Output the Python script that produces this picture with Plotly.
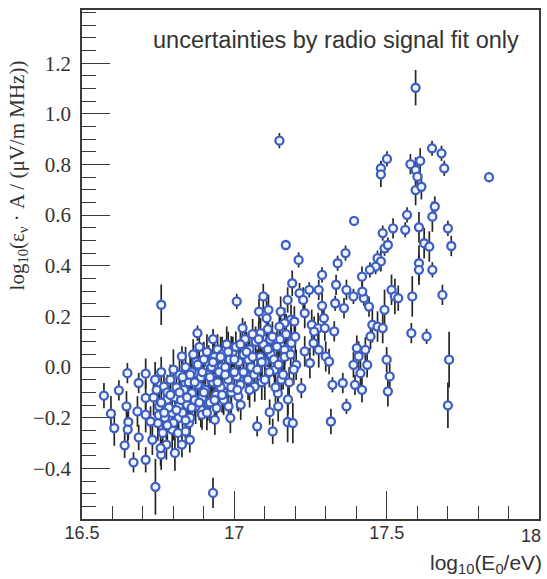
import plotly.graph_objects as go

# log10(E0/eV) of each event
log_e0 = [
    17.148, 17.595, 17.481, 17.481, 17.501, 17.578, 17.610, 17.595, 17.601, 17.595,
    17.614, 17.649, 17.680, 17.689, 17.836,
    17.393, 17.169, 17.211, 16.760, 17.008, 16.879, 16.930, 16.828, 16.649, 16.709,
    16.686, 16.621, 16.572,
    17.521, 17.487, 17.561, 17.567, 17.606, 17.650, 17.658, 17.701, 17.712, 17.623,
    17.640, 17.493, 17.504, 17.470, 17.481, 17.464, 17.445, 17.419, 17.606, 17.606,
    17.650, 17.683, 17.584, 17.516, 17.527, 17.538, 17.581, 17.631, 17.705, 17.493,
    17.453, 17.470, 17.487, 17.447, 17.339, 17.365, 17.288, 17.334, 17.368, 17.391,
    17.425, 17.442, 17.360, 17.331, 17.190, 17.246, 17.277, 17.214, 17.226, 17.288,
    17.231, 17.095, 17.175, 17.081, 17.112, 17.152, 17.027, 17.086, 17.106, 17.186,
    17.197, 17.254, 17.275, 17.297, 17.328, 17.294, 17.118, 17.140, 17.175, 17.231,
    17.260, 17.277, 17.300, 17.311, 17.248, 17.203, 17.402, 17.430, 17.408, 17.436,
    17.391, 17.414, 17.500, 17.510, 17.322, 17.356, 17.396, 17.419, 17.504, 17.220,
    17.368, 17.317, 17.701, 17.075, 17.126, 17.116, 17.144, 17.175, 17.192, 16.930,
    16.741, 16.669, 16.709, 16.640, 16.686, 16.606, 16.595, 16.646, 16.652, 16.650,
    16.731, 16.760, 16.805, 16.777, 16.828, 16.854, 16.796, 16.765, 16.840, 16.817,
    16.851, 16.749, 16.709, 16.987, 16.981, 17.021, 16.936, 16.890, 16.942, 16.873,
    16.913,
    16.682, 16.709, 16.725, 16.758, 16.769, 16.779, 16.753, 16.796, 16.818,
    16.926, 16.894, 16.861, 17.046, 17.105, 17.132, 17.067, 17.143, 17.008, 16.959,
    16.990, 17.040, 16.916, 16.872, 16.948, 17.013, 16.976, 16.894, 16.839,
    17.420, 17.165, 17.154, 17.176, 17.187, 17.262, 17.165, 17.148,
    16.735, 16.745, 16.752, 16.760, 16.772, 16.780, 16.785, 16.790, 16.800, 16.805,
    16.810, 16.815, 16.820, 16.825, 16.830, 16.835, 16.840, 16.845, 16.850, 16.855,
    16.860, 16.865, 16.870, 16.875, 16.880, 16.885, 16.890, 16.895, 16.900, 16.905,
    16.910, 16.915, 16.920, 16.925, 16.930, 16.935, 16.940, 16.945, 16.950, 16.955,
    16.960, 16.965, 16.970, 16.975, 16.980, 16.985, 16.990, 16.995,
    17.000, 17.005, 17.015, 17.020, 17.030, 17.035, 17.045, 17.050, 17.055, 17.060,
    17.065, 17.070, 17.085, 17.090, 17.095, 17.100, 17.110, 17.115, 17.120, 17.125,
    17.130, 17.135, 17.145, 17.150, 17.160, 17.165, 17.170, 17.180, 17.185, 17.195,
    17.200,
    16.740, 16.760, 16.770, 16.780, 16.790, 16.800, 16.810, 16.820, 16.830, 16.840,
    16.845, 16.855, 16.860, 16.870, 16.880, 16.885, 16.895, 16.900, 16.910, 16.920,
    16.930, 16.935, 16.945, 16.955, 16.960, 16.970, 16.980, 16.990, 17.000, 17.010,
    17.020, 17.030, 17.040, 17.050, 17.060, 17.075, 17.080, 17.090, 17.100, 17.110,
]

# log10(eps_nu * A / (uV/m MHz))
log_eps = [
    0.894, 1.103, 0.785, 0.761, 0.822, 0.801, 0.814, 0.778, 0.752, 0.699,
    0.712, 0.864, 0.844, 0.785, 0.750,
    0.577, 0.482, 0.423, 0.246, 0.259, 0.134, 0.110, 0.042, -0.024, -0.026,
    -0.063, -0.092, -0.113,
    0.548, 0.529, 0.542, 0.601, 0.552, 0.594, 0.634, 0.548, 0.478, 0.489,
    0.476, 0.469, 0.482, 0.430, 0.417, 0.397, 0.384, 0.357, 0.410, 0.384,
    0.384, 0.285, 0.279, 0.305, 0.279, 0.272, 0.134, 0.121, 0.029, 0.226,
    0.167, 0.160, 0.154, 0.121, 0.410, 0.450, 0.364, 0.325, 0.305, 0.279,
    0.272, 0.239, 0.233, 0.252, 0.331, 0.305, 0.305, 0.292, 0.265, 0.242,
    0.213, 0.279, 0.265, 0.219, 0.226, 0.219, 0.154, 0.134, 0.193, 0.187,
    0.180, 0.167, 0.154, 0.154, 0.141, 0.193, 0.108, 0.081, 0.075, 0.062,
    0.095, 0.068, 0.042, 0.022, 0.016, 0.009, 0.075, 0.068, 0.042, 0.009,
    0.009, -0.024, 0.029, -0.037, -0.070, -0.063, -0.070, -0.090, -0.096, -0.083,
    -0.155, -0.215, -0.151, -0.234, -0.254, -0.178, -0.155, -0.217, -0.221, -0.497,
    -0.473, -0.376, -0.366, -0.309, -0.278, -0.241, -0.184, -0.155, -0.217, -0.247,
    -0.287, -0.346, -0.339, -0.306, -0.306, -0.287, -0.247, -0.260, -0.254, -0.201,
    -0.221, -0.221, -0.188, -0.201, -0.155, -0.149, -0.208, -0.168, -0.162, -0.155,
    -0.142,
    -0.175, -0.122, -0.215, -0.320, -0.077, -0.129, -0.155, -0.181, -0.155,
    -0.057, -0.083, -0.103, 0.029, 0.081, -0.011, -0.077, -0.103, -0.037, 0.002,
    0.042, -0.037, 0.016, -0.024, -0.096, -0.116, -0.070, -0.188, -0.063,
    0.298, 0.174, -0.050, -0.128, 0.095, 0.140, 0.068, 0.160,
    -0.120, -0.090, -0.190, -0.140, -0.200, -0.100, -0.160, -0.050, -0.220, -0.120,
    -0.080, -0.260, -0.030, -0.130, -0.180, -0.090, 0.000, -0.150, -0.060, -0.200,
    -0.020, 0.050, -0.130, 0.020, -0.070, 0.080, -0.040, -0.120, 0.030, -0.090,
    0.060, -0.030, -0.140, 0.000, -0.060, 0.040, -0.110, 0.070, -0.020, -0.080,
    0.050, -0.130, 0.000, 0.090, -0.050, 0.030, -0.100, 0.060,
    -0.020, 0.080, 0.020, -0.070, 0.050, 0.110, -0.050, 0.070, 0.000, 0.130,
    -0.030, 0.100, 0.040, -0.060, 0.090, 0.020, 0.150, -0.020, 0.050, 0.120,
    0.030, -0.080, 0.010, 0.110, -0.030, 0.040, 0.130, -0.060, 0.050, -0.010,
    0.120,
    -0.050, -0.020, -0.180, -0.230, -0.110, -0.010, -0.170, -0.100, -0.040, -0.210,
    -0.120, -0.030, -0.160, -0.060, 0.010, -0.140, -0.020, -0.100, -0.180, -0.040,
    0.020, -0.130, -0.060, 0.040, -0.110, -0.030, 0.060, -0.080, 0.030, -0.090,
    0.090, -0.020, 0.060, -0.090, 0.040, -0.010, 0.110, 0.020, -0.050, 0.070,
]

# fit uncertainty (symmetric)
fit_err = [
    0.03, 0.07, 0.03, 0.05, 0.03, 0.04, 0.05, 0.05, 0.05, 0.06,
    0.05, 0.03, 0.03, 0.03, 0.02,
    0.02, 0.02, 0.03, 0.08, 0.03, 0.03, 0.04, 0.04, 0.04, 0.06,
    0.04, 0.04, 0.05,
    0.04, 0.03, 0.03, 0.03, 0.06, 0.06, 0.04, 0.03, 0.04, 0.06,
    0.06, 0.03, 0.03, 0.03, 0.04, 0.03, 0.03, 0.04, 0.07, 0.06,
    0.03, 0.04, 0.08, 0.06, 0.07, 0.05, 0.04, 0.03, 0.11, 0.08,
    0.07, 0.06, 0.06, 0.05, 0.03, 0.03, 0.03, 0.04, 0.04, 0.03,
    0.03, 0.04, 0.04, 0.03, 0.05, 0.03, 0.04, 0.04, 0.05, 0.05,
    0.06, 0.05, 0.05, 0.05, 0.06, 0.06, 0.04, 0.06, 0.07, 0.06,
    0.06, 0.06, 0.06, 0.05, 0.04, 0.05, 0.06, 0.06, 0.05, 0.06,
    0.05, 0.07, 0.06, 0.05, 0.06, 0.06, 0.05, 0.05, 0.06, 0.05,
    0.05, 0.05, 0.05, 0.05, 0.03, 0.04, 0.04, 0.05, 0.06, 0.04,
    0.03, 0.05, 0.09, 0.04, 0.05, 0.05, 0.06, 0.08, 0.08, 0.06,
    0.11, 0.04, 0.05, 0.05, 0.05, 0.07, 0.07, 0.06, 0.07, 0.07,
    0.06, 0.06, 0.07, 0.06, 0.05, 0.05, 0.08, 0.07, 0.06, 0.06,
    0.07, 0.07, 0.07, 0.06, 0.05, 0.06, 0.06, 0.07, 0.06, 0.07,
    0.07,
    0.06, 0.07, 0.06, 0.07, 0.06, 0.07, 0.07, 0.07, 0.06,
    0.06, 0.06, 0.07, 0.07, 0.07, 0.06, 0.06, 0.07, 0.07, 0.07,
    0.08, 0.06, 0.07, 0.06, 0.07, 0.06, 0.07, 0.06, 0.06,
    0.04, 0.06, 0.06, 0.06, 0.06, 0.06, 0.06, 0.06,
    0.07, 0.06, 0.08, 0.07, 0.06, 0.07, 0.08, 0.06, 0.07, 0.06,
    0.07, 0.06, 0.08, 0.07, 0.06, 0.07, 0.08, 0.06, 0.07, 0.06,
    0.07, 0.06, 0.08, 0.07, 0.06, 0.07, 0.08, 0.06, 0.07, 0.06,
    0.07, 0.06, 0.08, 0.07, 0.06, 0.07, 0.08, 0.06, 0.07, 0.06,
    0.07, 0.06, 0.08, 0.07, 0.06, 0.07, 0.08, 0.06,
    0.07, 0.06, 0.08, 0.07, 0.06, 0.07, 0.08, 0.06, 0.07, 0.06,
    0.07, 0.06, 0.08, 0.07, 0.06, 0.07, 0.08, 0.06, 0.07, 0.06,
    0.07, 0.06, 0.08, 0.07, 0.06, 0.07, 0.08, 0.06, 0.07, 0.06,
    0.07,
    0.07, 0.06, 0.08, 0.07, 0.06, 0.08, 0.07, 0.06, 0.08, 0.07,
    0.06, 0.08, 0.07, 0.06, 0.08, 0.07, 0.06, 0.08, 0.07, 0.06,
    0.08, 0.07, 0.06, 0.08, 0.07, 0.06, 0.08, 0.07, 0.06, 0.08,
    0.07, 0.06, 0.08, 0.07, 0.06, 0.08, 0.07, 0.06, 0.08, 0.07,
]

y_tick_vals = [-0.4, -0.2, 0.0, 0.2, 0.4, 0.6, 0.8, 1.0, 1.2]
y_tick_text = ["\u22120.4", "\u22120.2", "0.0", "0.2", "0.4", "0.6", "0.8", "1.0", "1.2"]
x_tick_vals = [16.5, 17.0, 17.5, 18.0]
# the last label is placed separately so it stays flush with the frame
x_tick_text = ["16.5", "17", "17.5", ""]
x_last_label = "18"

SERIF = "Liberation Serif, Times New Roman, serif"
SANS = "Liberation Sans, Arial, sans-serif"
AXIS_COLOR = "#3a3a3a"
TEXT_COLOR = "#333333"

fig = go.Figure(
    go.Scatter(
        x=log_e0,
        y=log_eps,
        mode="markers",
        error_y=dict(type="data", array=fit_err, visible=True,
                     color="#262626", thickness=1.7, width=0),
        marker=dict(symbol="circle", size=8, color="#f2f4fb",
                    line=dict(color="#3d5fc2", width=2.3)),
        showlegend=False,
    )
)

fig.update_xaxes(
    range=[16.5, 18.0],
    tickvals=x_tick_vals, ticktext=x_tick_text,
    ticks="inside", ticklen=28, tickwidth=1.3, tickcolor=AXIS_COLOR,
    minor=dict(dtick=0.1, tick0=16.5, ticks="inside", ticklen=13,
               tickwidth=1.3, tickcolor=AXIS_COLOR),
    showline=True, linecolor=AXIS_COLOR, linewidth=1.6, mirror=True,
    showgrid=False, zeroline=False,
    tickfont=dict(family=SANS, size=18, color=TEXT_COLOR),
    ticklabelstandoff=-3,
)
fig.update_yaxes(
    range=[-0.6, 1.41],
    tickvals=y_tick_vals, ticktext=y_tick_text,
    ticks="inside", ticklen=28, tickwidth=1.3, tickcolor=AXIS_COLOR,
    minor=dict(dtick=0.05, tick0=0, ticks="inside", ticklen=14,
               tickwidth=1.3, tickcolor=AXIS_COLOR),
    showline=True, linecolor=AXIS_COLOR, linewidth=1.6, mirror=True,
    showgrid=False, zeroline=False,
    tickfont=dict(family=SERIF, size=21, color=TEXT_COLOR),
    ticklabelstandoff=5,
)

fig.add_annotation(
    text=x_last_label,
    xref="paper", yref="paper", x=1.008, y=-0.034,
    xanchor="right", yanchor="middle", showarrow=False,
    font=dict(family=SANS, size=18, color=TEXT_COLOR),
)
fig.add_annotation(
    text="log<sub>10</sub>(\u03b5<sub>\u03bd</sub> \u00b7 A / (\u03bcV/m MHz))",
    xref="paper", yref="paper", x=-0.14, y=0.675,
    xanchor="center", yanchor="middle", textangle=-90, showarrow=False,
    font=dict(family=SERIF, size=21, color=TEXT_COLOR),
)
fig.add_annotation(
    text="log<sub>10</sub>(E<sub>0</sub>/eV)",
    xref="paper", yref="paper", x=1.01, y=-0.088,
    xanchor="right", yanchor="middle", showarrow=False,
    font=dict(family=SANS, size=21, color=TEXT_COLOR),
)
fig.add_annotation(
    text="uncertainties by radio signal fit only",
    xref="paper", yref="paper", x=0.96, y=0.941,
    xanchor="right", yanchor="middle", showarrow=False,
    font=dict(family=SANS, size=23.5, color=TEXT_COLOR),
)

fig.update_layout(
    width=547, height=579,
    margin=dict(l=82, r=6, t=10, b=60),
    plot_bgcolor="white", paper_bgcolor="white",
)

fig.write_html("out.html")
